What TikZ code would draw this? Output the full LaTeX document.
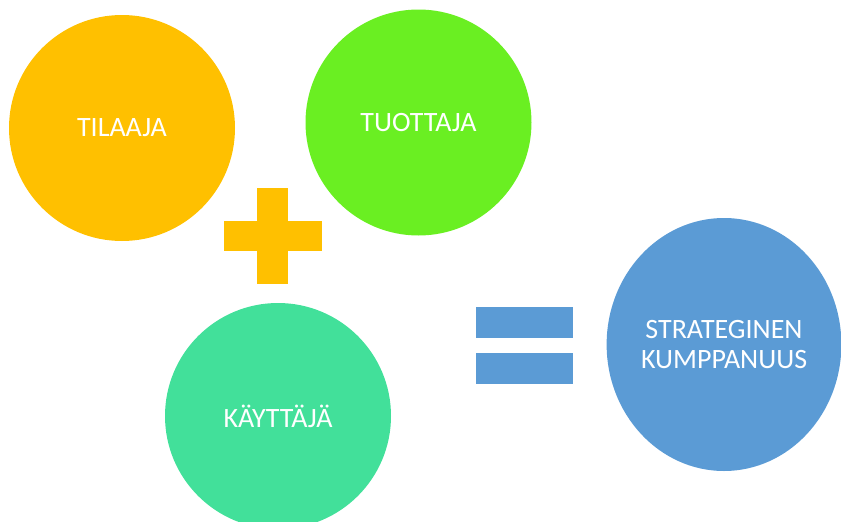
\documentclass[tikz,border=0pt]{standalone}
\usepackage{fontspec}
\setmainfont{Carlito}
\usetikzlibrary{shapes.geometric}
\definecolor{tilorange}{HTML}{FFC000}
\definecolor{tuogreen}{HTML}{6AEF22}
\definecolor{kaymint}{HTML}{42E09A}
\definecolor{strblue}{HTML}{5B9BD5}
\begin{document}
\begin{tikzpicture}[x=1pt,y=-1pt,
  party/.style={circle,inner sep=0pt,minimum size=226pt,text=white,font=\fontsize{28}{30}\selectfont},
  bar/.style={rectangle,inner sep=0pt,draw=none}]
  \useasboundingbox (0,0) rectangle (841,522);
  \begin{scope}[every node/.style={party}]
  \node[fill=tilorange] (tilaaja) at (122,128) {TILAAJA};
  \node[fill=tuogreen] (tuottaja) at (418.5,122.5) {TUOTTAJA};
  \node[fill=kaymint] (kayttaja) at (278,416) {KÄYTTÄJÄ};
  \end{scope}
  \node[ellipse,fill=strblue,inner sep=0pt,minimum width=234pt,minimum height=253pt,
    text=white,align=center,font=\fontsize{28}{30}\selectfont] (kumppanuus) at (724,344.5)
    {STRATEGINEN\\KUMPPANUUS};
  % plus
  \begin{scope}[every node/.style={bar,fill=tilorange}]
  \node[minimum width=98pt,minimum height=30pt] (plusH) at (273,236) {};
  \node[minimum width=31pt,minimum height=96pt] (plusV) at (272.5,236) {};
  \end{scope}
  % equals
  \begin{scope}[every node/.style={bar,fill=strblue,minimum width=97pt,minimum height=31pt}]
  \node (eqTop) at (524.5,322.5) {};
  \node (eqBot) at (524.5,368.5) {};
  \end{scope}
\end{tikzpicture}
\end{document}
